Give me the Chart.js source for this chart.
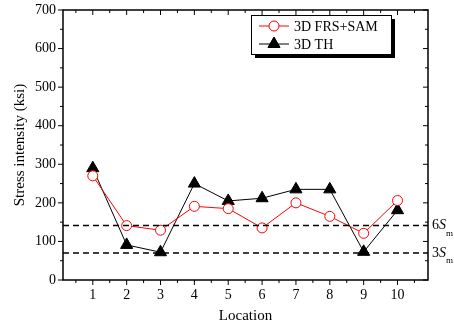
<!DOCTYPE html>
<html><head><meta charset="utf-8">
<script src="https://cdn.jsdelivr.net/npm/chart.js@4"></script>
<style>html,body{margin:0;padding:0;background:#fff}#wrap{width:454px;height:329px}</style>
</head><body><div id="wrap"><canvas id="c" width="454" height="329"></canvas></div>
<script>
const locations = [1,2,3,4,5,6,7,8,9,10];
const frsSam = [270,141,129,191,185,135,200,165,121,206];
const th3d = [290,91,72,250,205,212,235,235,73,181];
const yTicks = [0,100,200,300,400,500,600,700];
const refLines = [{value:141,label:'6',sub:'m'},{value:70,label:'3',sub:'m'}];
const seriesNames = ['3D FRS+SAM','3D TH'];
const FONT = '"Liberation Serif", "Times New Roman", serif';

const framePlugin = {
  id:'frame',
  afterDatasetsDraw(chart){
    const ctx = chart.ctx, a = chart.chartArea, xs = chart.scales.x, ys = chart.scales.y;
    ctx.save();
    ctx.strokeStyle='#000'; ctx.lineWidth=1.5; ctx.setLineDash([6,4]);
    refLines.forEach(r=>{
      const y = ys.getPixelForValue(r.value);
      ctx.beginPath(); ctx.moveTo(a.left,y); ctx.lineTo(a.right,y); ctx.stroke();
    });
    ctx.setLineDash([]);
    ctx.lineWidth=1.5;
    ctx.strokeRect(a.left,a.top,a.right-a.left,a.bottom-a.top);
    ctx.lineWidth=1;
    for(let v=0.5; v<=10.5; v+=0.5){
      const x = xs.getPixelForValue(v);
      const major = Number.isInteger(v);
      const len = major?5:3;
      ctx.beginPath(); ctx.moveTo(x,a.bottom); ctx.lineTo(x,a.bottom+len); ctx.stroke();
      ctx.beginPath(); ctx.moveTo(x,a.top); ctx.lineTo(x,a.top+len); ctx.stroke();
    }
    for(let v=0; v<=700; v+=50){
      const y = ys.getPixelForValue(v);
      const major = v%100===0;
      const len = major?5:3;
      ctx.beginPath(); ctx.moveTo(a.left,y); ctx.lineTo(a.left-len,y); ctx.stroke();
      ctx.beginPath(); ctx.moveTo(a.right,y); ctx.lineTo(a.right-len,y); ctx.stroke();
    }
    ctx.fillStyle='#000';
    refLines.forEach(r=>{
      const y = ys.getPixelForValue(r.value);
      ctx.font='14px '+FONT; ctx.textBaseline='middle'; ctx.textAlign='left';
      let x = a.right+4;
      ctx.fillText(r.label,x,y); x += ctx.measureText(r.label).width;
      ctx.font='italic 14px '+FONT; ctx.fillText('S',x,y); x += ctx.measureText('S').width;
      ctx.font='9px '+FONT; ctx.fillText(r.sub,x,y+8);
    });
    const lx=251, ly=15, lw=140, lh=39;
    ctx.fillStyle='#000'; ctx.fillRect(lx+4,ly+4,lw,lh);
    ctx.fillStyle='#fff'; ctx.fillRect(lx,ly,lw,lh);
    ctx.strokeStyle='#000'; ctx.lineWidth=1; ctx.strokeRect(lx+0.5,ly+0.5,lw,lh);
    const rows=[{y:ly+11,color:'#ff0000',style:'circle'},{y:ly+29,color:'#000',style:'triangle'}];
    rows.forEach((r,i)=>{
      ctx.strokeStyle=r.color; ctx.lineWidth=1;
      ctx.beginPath(); ctx.moveTo(lx+8,r.y); ctx.lineTo(lx+38,r.y); ctx.stroke();
      if(r.style==='circle'){
        ctx.fillStyle='#fff'; ctx.beginPath(); ctx.arc(lx+23,r.y,5,0,Math.PI*2); ctx.fill(); ctx.stroke();
      } else {
        Chart.helpers.drawPoint(ctx,{pointStyle:'triangle',radius:7,rotation:0,borderWidth:1},lx+23,r.y);
        ctx.fillStyle='#000'; ctx.fill();
      }
      ctx.fillStyle='#000'; ctx.font='14px '+FONT; ctx.textAlign='left'; ctx.textBaseline='middle';
      ctx.fillText(seriesNames[i],lx+43,r.y+1);
    });
    ctx.restore();
  }
};

new Chart(document.getElementById('c'),{
  type:'line',
  data:{datasets:[
    {label:seriesNames[0],data:locations.map((x,i)=>({x,y:frsSam[i]})),borderColor:'#ff0000',borderWidth:1,
     pointStyle:'circle',pointRadius:5,pointBorderColor:'#ff0000',pointBackgroundColor:'#fff',pointBorderWidth:1,tension:0},
    {label:seriesNames[1],data:locations.map((x,i)=>({x,y:th3d[i]})),borderColor:'#000',borderWidth:1,
     pointStyle:'triangle',pointRadius:7,pointBorderColor:'#000',pointBackgroundColor:'#000',pointBorderWidth:1,tension:0}
  ]},
  options:{
    responsive:false,animation:false,
    layout:{padding:{top:10,right:26,left:0,bottom:0}},
    plugins:{legend:{display:false},tooltip:{enabled:false}},
    scales:{
      x:{type:'linear',min:0.12,max:10.9,
        afterBuildTicks(s){s.ticks=locations.map(v=>({value:v}));},
        afterFit(s){s.height=49;s.paddingLeft=0;s.paddingRight=0;},
        grid:{display:false,drawTicks:false},border:{display:false},
        ticks:{color:'#000',font:{family:FONT,size:14},padding:7,maxRotation:0},
        title:{display:true,text:'Location',color:'#000',font:{family:FONT,size:15},padding:{top:8}}},
      y:{type:'linear',min:0,max:700,
        afterBuildTicks(s){s.ticks=yTicks.map(v=>({value:v}));},
        afterFit(s){s.width=63;s.paddingTop=0;s.paddingBottom=0;},
        grid:{display:false,drawTicks:false},border:{display:false},
        ticks:{color:'#000',font:{family:FONT,size:14},padding:7},
        title:{display:true,text:'Stress intensity (ksi)',color:'#000',font:{family:FONT,size:15},padding:{top:11,bottom:0}}}
    }
  },
  plugins:[framePlugin]
});
</script></body></html>
